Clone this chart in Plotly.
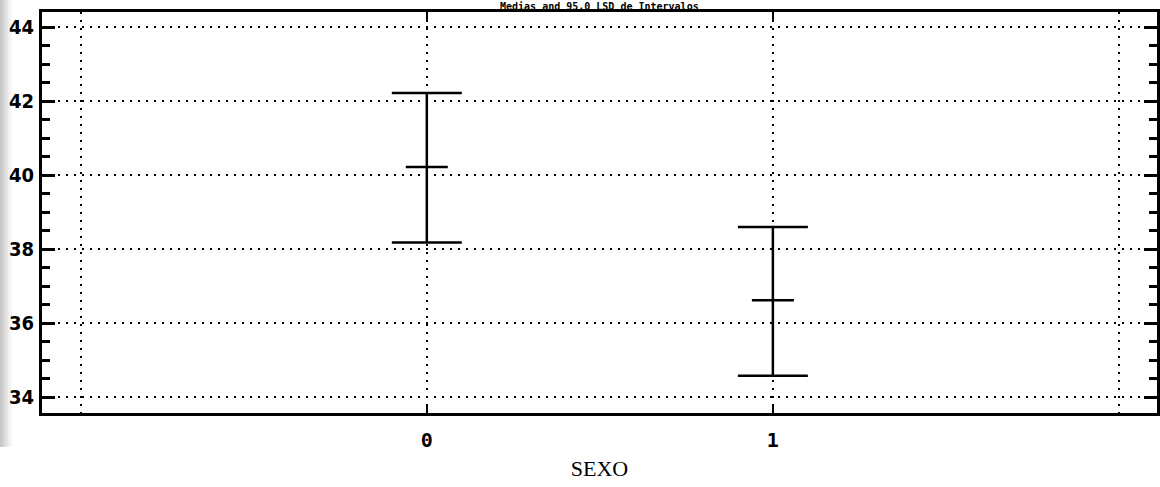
import plotly.graph_objects as go

# Data
categories = [0, 1]
means = [40.22, 36.62]
upper = [42.22, 38.60]
lower = [38.18, 34.58]

tick_font = dict(family="DejaVu Sans Condensed, Liberation Sans Narrow, sans-serif",
                 size=20, color="black", weight="bold")

fig = go.Figure()
fig.add_trace(go.Scatter(
    x=categories, y=means, mode="markers",
    marker=dict(symbol="line-ew", size=30, color="black",
                line=dict(color="black", width=2.5)),
    error_y=dict(type="data", symmetric=False,
                 array=[u - m for u, m in zip(upper, means)],
                 arrayminus=[m - l for m, l in zip(means, lower)],
                 color="black", thickness=2.5, width=35),
    showlegend=False, hoverinfo="skip",
))

# scan shadow on the left edge
shades = ["#c8c8c8", "#d2d2d2", "#dcdcdc", "#e6e6e6", "#f0f0f0", "#f7f7f7"]
shapes = []
for i, c in enumerate(shades):
    shapes.append(dict(type="rect", xref="paper", yref="paper",
                       xsizemode="pixel", ysizemode="pixel",
                       xanchor=0, yanchor=0,
                       x0=-42 + i * 2, x1=-42 + (i + 1) * 2,
                       y0=-34, y1=413,
                       fillcolor=c, line=dict(width=0), layer="below"))

fig.update_layout(
    width=1160, height=487,
    margin=dict(l=42, r=0, t=12, b=74),
    paper_bgcolor="white", plot_bgcolor="white",
    shapes=shapes,
    xaxis=dict(
        range=[-1.112, 2.11],
        tickmode="array", tickvals=[0, 1], ticktext=["0", "1"],
        ticks="inside", ticklen=9, tickwidth=2, tickcolor="black",
        showline=True, linecolor="black", linewidth=3, mirror="allticks",
        showgrid=True, gridcolor="black", gridwidth=2, griddash="2px,6px",
        minor=dict(tickmode="array", tickvals=[-1, 2], ticks="",
                   showgrid=True, gridcolor="black", gridwidth=2, griddash="2px,6px"),
        zeroline=False,
        tickfont=dict(family="DejaVu Sans Mono", size=20, color="black", weight="bold"),
        ticklabelstandoff=7,
        title=dict(text="SEXO", font=dict(family="Liberation Serif, Times New Roman, serif",
                                          size=22, color="black"), standoff=10),
    ),
    yaxis=dict(
        range=[33.57, 44.41],
        tickmode="linear", tick0=34, dtick=2,
        ticks="inside", ticklen=13, tickwidth=3, tickcolor="black",
        showline=True, linecolor="black", linewidth=3, mirror="allticks",
        showgrid=True, gridcolor="black", gridwidth=2, griddash="2px,6px",
        minor=dict(tick0=34, dtick=0.5, ticks="inside", ticklen=8, tickwidth=3,
                   tickcolor="black", showgrid=False),
        zeroline=False,
        tickfont=tick_font,
        ticklabelstandoff=1,
    ),
    annotations=[dict(
        text="Medias and 95,0 LSD de Intervalos", xref="paper", yref="paper",
        x=0.5, y=1, yanchor="middle", yshift=6, showarrow=False,
        font=dict(family="DejaVu Sans Mono", size=10, color="black", weight="bold"),
    )],
)

fig.write_html("out.html")
